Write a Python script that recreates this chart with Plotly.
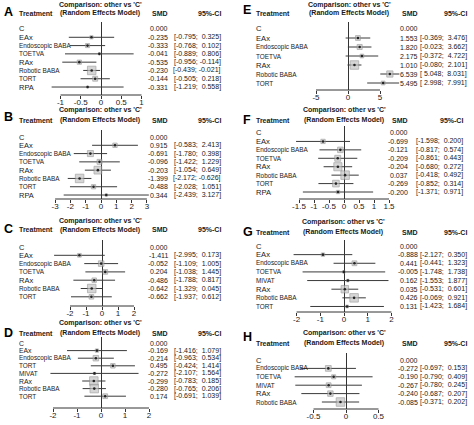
import plotly.graph_objects as go

W, H = 474, 425
FONT = "Liberation Sans, Arial, Helvetica, sans-serif"
TXT = "#1a1a1a"

# ---------------- data ----------------
A_labels = ["C", "EAx", "Endoscopic BABA", "TOETVA", "RAx", "Robotic BABA", "TORT", "RPA"]
A_smd = [0.000, -0.235, -0.333, -0.041, -0.535, -0.230, -0.144, -0.331]
A_lo = [None, -0.795, -0.768, -0.889, -0.956, -0.439, -0.505, -1.219]
A_hi = [None, 0.325, 0.102, 0.806, -0.114, -0.021, 0.218, 0.558]
A_ticks = [-1, -0.5, 0, 0.5, 1]
A_ticktext = ["-1", "-0.5", "0", "0.5", "1"]

B_labels = ["C", "EAx", "Endoscopic BABA", "TOETVA", "RAx", "Robotic BABA", "TORT", "RPA"]
B_smd = [0.000, 0.915, -0.691, -0.096, -0.203, -1.399, -0.488, 0.344]
B_lo = [None, -0.583, -1.780, -1.422, -1.054, -2.172, -2.028, -2.439]
B_hi = [None, 2.413, 0.398, 1.229, 0.649, -0.626, 1.051, 3.127]
B_ticks = [-3, -2, -1, 0, 1, 2, 3]
B_ticktext = ["-3", "-2", "-1", "0", "1", "2", "3"]

C_labels = ["C", "EAx", "Endoscopic BABA", "TOETVA", "RAx", "Robotic BABA", "TORT"]
C_smd = [0.000, -1.411, -0.052, 0.204, -0.486, -0.642, -0.662]
C_lo = [None, -2.995, -1.109, -1.038, -1.788, -1.329, -1.937]
C_hi = [None, 0.173, 1.005, 1.445, 0.817, 0.045, 0.612]
C_ticks = [-2, -1, 0, 1, 2]
C_ticktext = ["-2", "-1", "0", "1", "2"]

D_labels = ["C", "EAx", "Endoscopic BABA", "TORT", "MIVAT", "RAx", "Robotic BABA", "TORT"]
D_smd = [0.000, -0.169, -0.214, 0.495, -0.272, -0.299, -0.280, 0.174]
D_lo = [None, -1.416, -0.963, -0.424, -2.107, -0.783, -0.765, -0.691]
D_hi = [None, 1.079, 0.534, 1.414, 1.564, 0.185, 0.206, 1.039]
D_ticks = [-2, -1, 0, 1, 2]
D_ticktext = ["-2", "-1", "0", "1", "2"]

E_labels = ["C", "EAx", "Endoscopic BABA", "TOETVA", "RAx", "Robotic BABA", "TORT"]
E_smd = [0.000, 1.553, 1.820, 2.175, 1.010, 6.539, 5.495]
E_lo = [None, -0.369, -0.023, -0.372, -0.080, 5.048, 2.998]
E_hi = [None, 3.476, 3.662, 4.722, 2.101, 8.031, 7.991]
E_ticks = [-5, 0, 5]
E_ticktext = ["-5", "0", "5"]

F_labels = ["C", "EAx", "Endoscopic BABA", "TOETVA", "RAx", "Robotic BABA", "TORT", "RPA"]
F_smd = [0.000, -0.699, -0.121, -0.209, -0.204, 0.037, -0.269, -0.200]
F_lo = [None, -1.598, -0.817, -0.861, -0.680, -0.418, -0.852, -1.371]
F_hi = [None, 0.200, 0.574, 0.443, 0.272, 0.492, 0.314, 0.971]
F_ticks = [-1.5, -1, -0.5, 0, 0.5, 1, 1.5]
F_ticktext = ["-1.5", "-1", "-0.5", "0", "0.5", "1", "1.5"]

G_labels = ["C", "EAx", "Endoscopic BABA", "TOETVA", "MIVAT", "RAx", "Robotic BABA", "TORT"]
G_smd = [0.000, -0.888, 0.441, -0.005, 0.162, 0.035, 0.426, 0.131]
G_lo = [None, -2.127, -0.441, -1.748, -1.553, -0.531, -0.069, -1.423]
G_hi = [None, 0.350, 1.323, 1.738, 1.877, 0.601, 0.921, 1.684]
G_ticks = [-2, -1, 0, 1, 2]
G_ticktext = ["-2", "-1", "0", "1", "2"]

H_labels = ["C", "Endoscopic BABA", "TOETVA", "MIVAT", "RAx", "Robotic BABA"]
H_smd = [0.000, -0.272, -0.190, -0.267, -0.240, -0.085]
H_lo = [None, -0.697, -0.790, -0.780, -0.687, -0.371]
H_hi = [None, 0.153, 0.409, 0.245, 0.207, 0.202]
H_ticks = [-0.5, 0, 0.5]
H_ticktext = ["-0.5", "0", "0.5"]

TITLE1 = "Comparison: other vs 'C'"
TITLE2 = "(Random Effects Model)"
HDR_TREAT = "Treatment"
HDR_SMD = "SMD"
HDR_CI = "95%-CI"

# ---------------- layout geometry (pixels) ----------------
data = {
    "A": (A_labels, A_smd, A_lo, A_hi, A_ticks, A_ticktext),
    "B": (B_labels, B_smd, B_lo, B_hi, B_ticks, B_ticktext),
    "C": (C_labels, C_smd, C_lo, C_hi, C_ticks, C_ticktext),
    "D": (D_labels, D_smd, D_lo, D_hi, D_ticks, D_ticktext),
    "E": (E_labels, E_smd, E_lo, E_hi, E_ticks, E_ticktext),
    "F": (F_labels, F_smd, F_lo, F_hi, F_ticks, F_ticktext),
    "G": (G_labels, G_smd, G_lo, G_hi, G_ticks, G_ticktext),
    "H": (H_labels, H_smd, H_lo, H_hi, H_ticks, H_ticktext),
}

geom = {
    "A": dict(lx=2, ly=12, t1=5, t2=13, labx=17, tc=100, smd_r=170, ci_r=223, row0=29, sp=8.29, top=22, axis=95, zero=101, ppu=40.5, dom=(45, 155)),
    "B": dict(lx=2, ly=117, t1=110, t2=120, labx=17, tc=100, smd_r=170, ci_r=223, row0=137, sp=8.29, top=130, axis=199, zero=101, ppu=15.3, dom=(45, 155)),
    "C": dict(lx=2, ly=229, t1=221, t2=230, labx=17, tc=100, smd_r=170, ci_r=223, row0=247, sp=8.3, top=240, axis=306, zero=102, ppu=16.0, dom=(45, 155)),
    "D": dict(lx=2, ly=333, t1=323, t2=333, labx=17, tc=100, smd_r=170, ci_r=223, row0=343, sp=7.6, top=337, axis=408, zero=101, ppu=24.0, dom=(45, 155)),
    "E": dict(lx=241, ly=10, t1=5, t2=13, labx=254, tc=349, smd_r=420, ci_r=469, row0=29, sp=9.0, top=22, axis=90, zero=348, ppu=6.4, dom=(285, 402)),
    "F": dict(lx=241, ly=120, t1=110, t2=120, labx=254, tc=344, smd_r=410, ci_r=465, row0=133, sp=8.43, top=126, axis=199, zero=344, ppu=30.0, dom=(285, 402)),
    "G": dict(lx=241, ly=232, t1=222, t2=232, labx=254, tc=343, smd_r=420, ci_r=469, row0=246, sp=8.64, top=240, axis=312, zero=344, ppu=23.7, dom=(285, 402)),
    "H": dict(lx=241, ly=337, t1=333, t2=343, labx=254, tc=344, smd_r=420, ci_r=469, row0=360, sp=8.4, top=353, axis=409, zero=346, ppu=65.0, dom=(285, 402)),
}

BIG_LABELS = {"C", "EAx", "RAx", "RPA"}
MAX_SQ = 8.5


def px(x):
    return x / W


def py(y):
    return 1 - y / H


def fmt(v):
    s = f"{v:.3f}"
    return s if v < 0 else "\u00a0" + s


fig = go.Figure()
annotations = []
shapes = []
layout_axes = {}

for n, key in enumerate("ABCDEFGH", start=1):
    labels, smd, lo, hi, ticks, ticktext = data[key]
    g = geom[key]
    xa = "x" if n == 1 else f"x{n}"
    ya = "y" if n == 1 else f"y{n}"
    xname = "xaxis" if n == 1 else f"xaxis{n}"
    yname = "yaxis" if n == 1 else f"yaxis{n}"

    rows = list(range(len(labels)))
    dl, dr = g["dom"]
    xr = [(dl - g["zero"]) / g["ppu"], (dr - g["zero"]) / g["ppu"]]
    yr = [(g["axis"] - g["row0"]) / g["sp"], (g["top"] - g["row0"]) / g["sp"]]

    layout_axes[xname] = dict(
        domain=[px(dl), px(dr)], range=xr, anchor=ya, showgrid=False,
        zeroline=True, zerolinecolor="#333333", zerolinewidth=1,
        showline=False, ticks="outside", ticklen=3, tickwidth=1, tickcolor="#333333",
        tickvals=ticks, ticktext=ticktext, tickfont=dict(size=8, color=TXT, family=FONT),
        ticklabelstandoff=-4, fixedrange=True,
    )
    layout_axes[yname] = dict(
        domain=[py(g["axis"]), py(g["top"])], range=yr, anchor=xa, visible=False,
        showgrid=False, zeroline=False, fixedrange=True,
    )

    # CI lines
    cx, cy = [], []
    for i in rows:
        if lo[i] is None:
            continue
        cx += [lo[i], hi[i], None]
        cy += [i, i, None]
    fig.add_trace(go.Scatter(x=cx, y=cy, mode="lines", xaxis=xa, yaxis=ya,
                             line=dict(color="#3a3a3a", width=1), hoverinfo="skip", showlegend=False))

    # squares sized by inverse CI width (weight)
    widths = [hi[i] - lo[i] for i in rows if lo[i] is not None]
    wmin = min(widths)
    sx, sy, ss = [], [], []
    for i in rows:
        if lo[i] is None:
            continue
        sx.append(smd[i])
        sy.append(i)
        ss.append(max(2.0, MAX_SQ * wmin / (hi[i] - lo[i])))
    fig.add_trace(go.Scatter(x=sx, y=sy, mode="markers", xaxis=xa, yaxis=ya,
                             marker=dict(symbol="square", size=ss, color="#c4c4c4",
                                         line=dict(color="#8a8a8a", width=0.8)),
                             hoverinfo="skip", showlegend=False))
    fig.add_trace(go.Scatter(x=sx, y=sy, mode="markers", xaxis=xa, yaxis=ya,
                             marker=dict(symbol="circle", size=2.6, color="#222222"),
                             hoverinfo="skip", showlegend=False))

    # axis line spanning tick range only
    shapes.append(dict(type="line", xref=xa, yref=f"{ya} domain", x0=ticks[0], x1=ticks[-1],
                       y0=0, y1=0, line=dict(color="#333333", width=1)))

    # row labels, SMD and CI text
    big_size = min(7.6, g["sp"] * 0.9)
    for i in rows:
        big = labels[i] in BIG_LABELS
        annotations.append(dict(text=labels[i], xref="paper", yref=ya, x=px(g["labx"]), y=i,
                                xanchor="left", yanchor="middle", showarrow=False,
                                font=dict(size=big_size if big else 6.4, color=TXT, family=FONT)))
        annotations.append(dict(text=f"{smd[i]:.3f}", xref="paper", yref=ya, x=px(g["smd_r"]), y=i,
                                xanchor="right", yanchor="middle", showarrow=False,
                                font=dict(size=7, color=TXT, family=FONT)))
        if lo[i] is not None:
            annotations.append(dict(text=f"[{fmt(lo[i])}; {fmt(hi[i])}]", xref="paper", yref=ya,
                                    x=px(g["ci_r"]), y=i, xanchor="right", yanchor="middle",
                                    showarrow=False, font=dict(size=7, color=TXT, family=FONT)))

    # headers
    bold = dict(size=7, color=TXT, family=FONT)
    annotations += [
        dict(text=f"<b>{key}</b>", xref="paper", yref="paper", x=px(g["lx"]), y=py(g["ly"]),
             xanchor="left", yanchor="middle", showarrow=False,
             font=dict(size=12.5, color="#000000", family=FONT)),
        dict(text=f"<b>{TITLE1}</b>", xref="paper", yref="paper", x=px(g["tc"]), y=py(g["t1"]),
             xanchor="center", yanchor="middle", showarrow=False, font=bold),
        dict(text=f"<b>{TITLE2}</b>", xref="paper", yref="paper", x=px(g["tc"]), y=py(g["t2"]),
             xanchor="center", yanchor="middle", showarrow=False, font=bold),
        dict(text=f"<b>{HDR_TREAT}</b>", xref="paper", yref="paper", x=px(g["labx"]), y=py(g["t2"]),
             xanchor="left", yanchor="middle", showarrow=False, font=bold),
        dict(text=f"<b>{HDR_SMD}</b>", xref="paper", yref="paper", x=px(g["smd_r"]), y=py(g["t2"]),
             xanchor="right", yanchor="middle", showarrow=False, font=bold),
        dict(text=f"<b>{HDR_CI}</b>", xref="paper", yref="paper", x=px(g["ci_r"]), y=py(g["t2"]),
             xanchor="right", yanchor="middle", showarrow=False, font=bold),
    ]

fig.update_layout(
    width=W, height=H, autosize=False,
    margin=dict(l=0, r=0, t=0, b=0, pad=0),
    paper_bgcolor="white", plot_bgcolor="rgba(0,0,0,0)",
    showlegend=False, annotations=annotations, shapes=shapes,
    font=dict(family=FONT, color=TXT),
    **layout_axes,
)

fig.write_html("out.html", config={"displayModeBar": False, "staticPlot": True},
               post_script="document.body.style.margin='0';document.body.style.overflow='hidden';")
